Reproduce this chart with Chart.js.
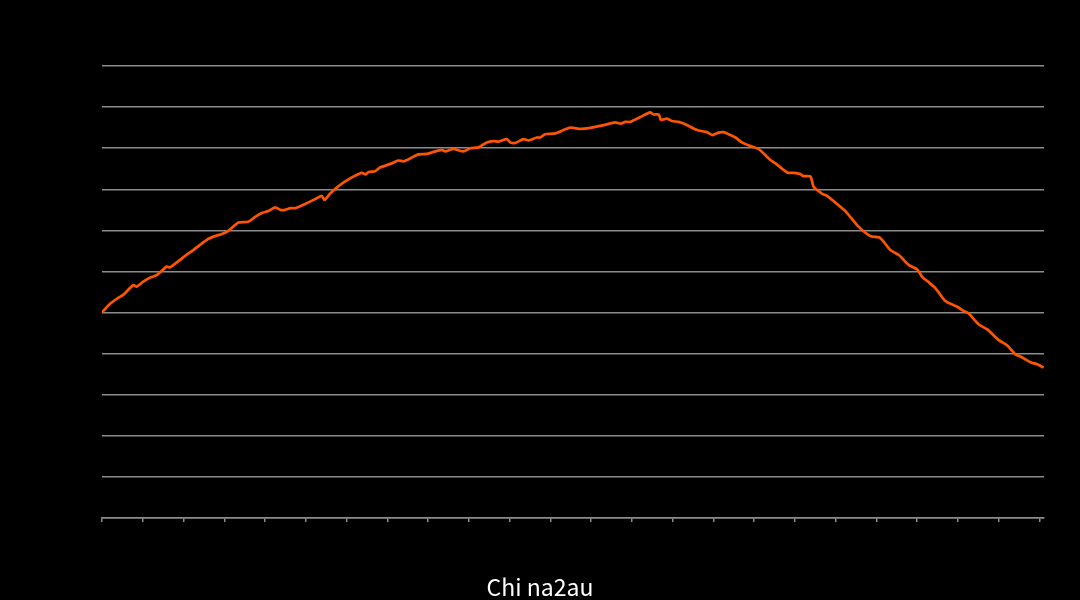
<!DOCTYPE html>
<html>
<head>
<meta charset="utf-8">
<title>Chi na2au</title>
<script src="https://cdn.jsdelivr.net/npm/chart.js@4"></script>
<style>
  html, body { margin: 0; padding: 0; background: #000; }
  #chart { display: block; }
</style>
</head>
<body>
<canvas id="chart" width="1080" height="600"></canvas>
<script>
// position along the x axis (one unit per tick mark)
const xPos = [
  0, 0.16, 0.40, 0.52, 0.77, 0.85, 1.01, 1.18, 1.34, 1.59, 1.67, 2.04, 2.24, 2.57, 2.77, 2.94,
  3.10, 3.35, 3.59, 3.76, 3.92, 4.08, 4.25, 4.37, 4.49, 4.62, 4.74, 4.98, 5.23, 5.39, 5.46, 5.60,
  5.92, 6.37, 6.46, 6.54, 6.70, 6.82, 7.11, 7.27, 7.40, 7.56, 7.76, 7.97, 8.13, 8.34, 8.42, 8.62,
  8.87, 9.03, 9.24, 9.44, 9.61, 9.73, 9.93, 10.02, 10.14, 10.34, 10.46, 10.67, 10.75, 10.87, 11.12, 11.32,
  11.49, 11.73, 11.90, 12.31, 12.59, 12.72, 12.84, 12.96, 13.21, 13.45, 13.53, 13.66, 13.71, 13.86, 13.98, 14.15,
  14.31, 14.60, 14.84, 14.97, 15.13, 15.25, 15.37, 15.54, 15.70, 15.91, 16.11, 16.40, 16.52, 16.81, 16.97, 17.13,
  17.21, 17.38, 17.46, 17.67, 17.79, 18.20, 18.28, 18.56, 18.85, 19.06, 19.18, 19.34, 19.55, 19.79, 20.00, 20.12,
  20.28, 20.45, 20.69, 20.98, 21.14, 21.26, 21.51, 21.72, 22.00, 22.21, 22.41, 22.53, 22.78, 22.94, 23.10
];

// series values (one unit per gridline)
const values = [
  5.00, 5.18, 5.36, 5.43, 5.67, 5.63, 5.75, 5.85, 5.91, 6.12, 6.10, 6.38, 6.52, 6.77, 6.86, 6.91,
  6.99, 7.19, 7.21, 7.33, 7.42, 7.47, 7.56, 7.50, 7.50, 7.54, 7.54, 7.64, 7.76, 7.84, 7.74, 7.90,
  8.16, 8.40, 8.36, 8.42, 8.44, 8.53, 8.63, 8.70, 8.68, 8.75, 8.85, 8.86, 8.91, 8.96, 8.92, 8.98,
  8.92, 9.00, 9.02, 9.14, 9.17, 9.16, 9.22, 9.14, 9.13, 9.22, 9.19, 9.26, 9.26, 9.34, 9.36, 9.44,
  9.50, 9.47, 9.48, 9.56, 9.63, 9.60, 9.64, 9.64, 9.76, 9.87, 9.82, 9.82, 9.69, 9.72, 9.66, 9.64,
  9.58, 9.44, 9.39, 9.32, 9.38, 9.39, 9.34, 9.26, 9.14, 9.05, 8.98, 8.71, 8.63, 8.41, 8.40, 8.37,
  8.32, 8.31, 8.06, 7.89, 7.84, 7.50, 7.42, 7.09, 6.86, 6.83, 6.72, 6.52, 6.40, 6.16, 6.05, 5.87,
  5.74, 5.59, 5.28, 5.14, 5.04, 4.98, 4.71, 4.59, 4.33, 4.20, 3.98, 3.93, 3.79, 3.74, 3.66
];

const xMax = 23.11;
const yMax = 11;
const caption = 'Chi na2au';

const points = xPos.map((x, i) => ({ x: x, y: values[i] }));

// caption under the chart, centred on the whole canvas
const captionPlugin = {
  id: 'caption',
  afterDraw(chart) {
    const c = chart.ctx;
    c.save();
    c.fillStyle = '#ffffff';
    c.font = '23px "Noto Sans CJK JP", "Noto Sans", sans-serif';
    c.textAlign = 'center';
    c.textBaseline = 'middle';
    c.fillText(caption, chart.width / 2, 587);
    c.restore();
  }
};

const ctx = document.getElementById('chart').getContext('2d');
new Chart(ctx, {
  type: 'line',
  data: {
    datasets: [{
      data: points,
      borderColor: '#ff5500',
      borderWidth: 2.7,
      pointRadius: 0,
      tension: 0.2,
      fill: false
    }]
  },
  options: {
    responsive: false,
    animation: false,
    devicePixelRatio: 1,
    layout: {
      padding: { left: 102, right: 36, top: 66, bottom: 78 }
    },
    plugins: {
      legend: { display: false },
      tooltip: { enabled: false },
      title: { display: false }
    },
    scales: {
      x: {
        type: 'linear',
        min: 0,
        max: xMax,
        border: { display: true, color: '#8c8c8c', width: 1.5 },
        grid: { drawOnChartArea: false, drawTicks: true, tickLength: 4, color: '#8c8c8c', lineWidth: 1.5 },
        ticks: { display: false, stepSize: 1, includeBounds: false }
      },
      y: {
        min: 0,
        max: yMax,
        border: { display: false },
        grid: { color: '#8c8c8c', lineWidth: 1.5, drawTicks: false },
        ticks: { display: false, stepSize: 1 }
      }
    }
  },
  plugins: [captionPlugin]
});
</script>
</body>
</html>
